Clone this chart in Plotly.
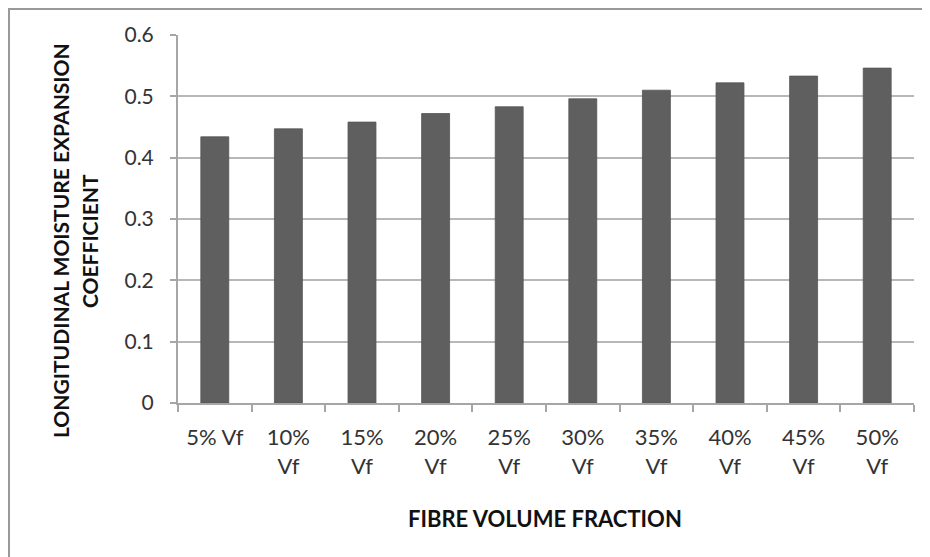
import plotly.graph_objects as go

categories = ["5% Vf", "10% Vf", "15% Vf", "20% Vf", "25% Vf",
              "30% Vf", "35% Vf", "40% Vf", "45% Vf", "50% Vf"]
tick_labels = ["5% Vf", "10%<br>Vf", "15%<br>Vf", "20%<br>Vf", "25%<br>Vf",
               "30%<br>Vf", "35%<br>Vf", "40%<br>Vf", "45%<br>Vf", "50%<br>Vf"]
values = [0.434, 0.447, 0.458, 0.472, 0.483, 0.496, 0.510, 0.522, 0.533, 0.546]
y_ticks = [0, 0.1, 0.2, 0.3, 0.4, 0.5, 0.6]
y_tick_labels = ["0", "0.1", "0.2", "0.3", "0.4", "0.5", "0.6"]
x_title = "FIBRE VOLUME FRACTION"
y_title_lines = ["LONGITUDINAL MOISTURE EXPANSION", "COEFFICIENT"]

OFF = 8  # page body margin
W, H = 930 - OFF, 557 - OFF
L, T = 178 - OFF, 35 - OFF
R = W - (914 - OFF)
B = H - (403 - OFF)
pw, ph = W - L - R, H - T - B


def px(x):
    return (x - OFF - L) / pw


def py(y):
    return (H - B - (y - OFF)) / ph


fig = go.Figure(go.Bar(
    x=categories, y=values,
    marker=dict(color="#5f5f5f", line=dict(color="#555555", width=0.8)),
    width=0.38,
))

font = "Lato, 'Open Sans', sans-serif"
fig.update_layout(
    width=W, height=H,
    margin=dict(l=L, r=R, t=T, b=B, autoexpand=False),
    paper_bgcolor="#ffffff", plot_bgcolor="#ffffff",
    showlegend=False,
    font=dict(family=font, color="#222222", size=16),
    xaxis=dict(
        tickmode="array", tickvals=categories, ticktext=tick_labels,
        showline=True, linecolor="#a6a6a6", linewidth=2,
        ticks="outside", ticklen=7, tickcolor="#a6a6a6", tickwidth=1.5,
        tickson="boundaries", ticklabelstandoff=14,
        showgrid=False, tickfont=dict(size=22, color="#333333"),
    ),
    yaxis=dict(
        range=[0, 0.6], tickvals=y_ticks, ticktext=y_tick_labels,
        showline=True, linecolor="#a6a6a6", linewidth=2,
        ticks="outside", ticklen=6, tickcolor="#a6a6a6", tickwidth=1.5,
        ticklabelstandoff=12,
        showgrid=True, gridcolor="#b8b8b8", gridwidth=1.6,
        zeroline=False, tickfont=dict(size=21, color="#333333"),
    ),
    annotations=[
        dict(text="<b>%s</b>" % x_title, xref="paper", yref="paper",
             x=px(545), y=py(518), showarrow=False, xanchor="center", yanchor="middle",
             font=dict(size=22, color="#111111")),
        dict(text="<b>%s</b>" % y_title_lines[0], xref="paper", yref="paper",
             x=px(61), y=py(241), showarrow=False, textangle=-90,
             xanchor="center", yanchor="middle",
             font=dict(size=21, color="#111111")),
        dict(text="<b>%s</b>" % y_title_lines[1], xref="paper", yref="paper",
             x=px(90), y=py(241), showarrow=False, textangle=-90,
             xanchor="center", yanchor="middle",
             font=dict(size=21, color="#111111")),
    ],
    shapes=[
        dict(type="rect", xref="paper", yref="paper",
             x0=px(9), x1=px(960), y0=py(600), y1=py(9),
             line=dict(color="#999999", width=2), fillcolor="rgba(0,0,0,0)", layer="below"),
    ],
)
fig.write_html("out.html")
